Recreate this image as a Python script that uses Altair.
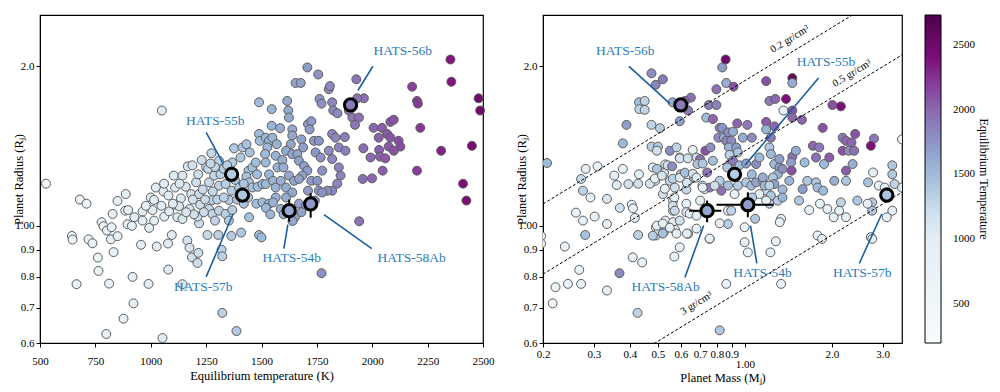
import altair as alt
import pandas as pd

FONT = "Liberation Serif"
ANN_TEXT = "#2b7bbd"
ANN_LINE = "#1b5e9f"
EDGE = "#5c5c5c"

# ---------------- left panel: equilibrium temperature vs radius ----------------
left_teq = [
    527, 680, 710, 644, 647, 719, 737, 778, 787, 802,
    823, 820, 850, 832, 761, 764, 665, 812, 799, 877,
    922, 918, 990, 1053, 850, 887, 828, 885, 898, 895,
    915, 926, 956, 963, 963, 993, 1000, 1008, 1023, 1015,
    1048, 1057, 1050, 1027, 1095, 1078, 1079, 1104, 1015, 978,
    1061, 1083, 1108, 1120, 1136, 1143, 1158, 1167, 1188, 1128,
    1143, 1165, 1175, 1186, 1143, 1215, 1211, 1175, 1183, 1205,
    1214, 1218, 1223, 1218, 1211, 1250, 1259, 1274, 1263, 1286,
    1308, 1308, 1278, 1263, 1278, 1290, 1256, 1305, 1320, 1323,
    1323, 1387, 1308, 1338, 1353, 1315, 1338, 1365, 1353, 1368,
    1364, 1408, 1376, 1368, 1405, 1414, 1432, 1447, 1441, 1432,
    1459, 1474, 1480, 1444, 1399, 1459, 1483, 1504, 1444, 1477,
    1504, 1534, 1489, 1500, 1489, 1489, 1492, 1519, 1534, 1526,
    1516, 1549, 1546, 1546, 1584, 1569, 1564, 1572, 1594, 1599,
    1519, 1534, 1519, 1552, 1564, 1587, 1564, 1552, 1587, 1616,
    1621, 1624, 1639, 1639, 1632, 1611, 1639, 1624, 1647, 1611,
    1639, 1611, 1651, 1654, 1677, 1707, 1756, 1680, 1688, 1710,
    1725, 1717, 1662, 1669, 1692, 1707, 1684, 1669, 1725, 1710,
    1669, 1737, 1744, 1759, 1767, 1774, 1752, 1759, 1741, 1762,
    1771, 1804, 1809, 1819, 1824, 1843, 1819, 1834, 1849, 1876,
    1879, 1804, 1819, 1849, 1857, 1842, 1819, 1797, 1774, 1894,
    1928, 1962, 1932, 1910, 1940, 1922, 2006, 2044, 2082, 2097,
    2067, 2029, 2082, 2119, 2127, 2074, 2097, 1960, 2031, 1992,
    2035, 2059, 2047, 1957, 1999, 1941, 2180, 2202, 2206, 2217,
    2311, 2202, 2353, 2357, 2450, 2480, 2487, 2410, 2425, 1771,
    1390, 1420, 1440, 1380, 1420, 1190, 1235, 1245, 1195, 1240,
    1280, 1300, 1330, 1330, 1345, 1290, 1520, 1540, 1600, 1700,
    1680, 1640, 1110, 1130, 1060, 1080, 1160, 1100, 1230, 1270,
]
left_radius = [
    1.20, 1.12, 1.10, 0.956, 0.941, 0.942, 0.926, 1.015, 0.997, 0.979,
    0.993, 0.942, 0.955, 0.891, 0.87, 0.821, 0.775, 0.777, 0.624, 0.667,
    0.713, 0.80, 0.776, 0.613, 1.113, 1.147, 1.052, 1.067, 1.07, 1.006,
    0.999, 1.037, 0.92, 1.063, 1.022, 0.99, 1.13, 1.07, 1.18, 1.118,
    1.09, 1.16, 1.65, 0.913, 0.96, 0.925, 0.826, 1.243, 1.022, 1.09,
    1.04, 1.064, 1.095, 1.037, 1.126, 1.243, 1.184, 1.294, 1.30, 1.088,
    1.029, 0.937, 0.908, 0.871, 0.775, 0.888, 0.85, 1.075, 1.147, 1.207,
    1.25, 1.147, 1.095, 1.01, 1.04, 1.288, 1.28, 1.37, 1.207, 1.243,
    1.19, 1.326, 1.118, 1.075, 1.052, 1.022, 0.96, 0.96, 0.90, 0.875,
    0.684, 0.632, 1.067, 1.052, 1.022, 1.25, 1.198, 1.164, 1.118, 1.07,
    0.956, 0.97, 1.40, 1.316, 1.345, 1.405, 1.425, 1.375, 1.27, 1.237,
    1.288, 1.316, 1.25, 1.207, 1.18, 1.18, 1.184, 1.198, 1.037, 1.10,
    1.106, 1.10, 0.96, 0.95, 1.71, 1.49, 1.446, 1.466, 1.446, 1.405,
    1.365, 1.466, 1.66, 1.544, 1.528, 1.425, 1.355, 1.288, 1.33, 1.288,
    1.316, 1.25, 1.198, 1.215, 1.18, 1.215, 1.13, 1.106, 1.075, 1.72,
    1.65, 1.60, 1.52, 1.48, 1.425, 1.385, 1.365, 1.243, 1.215, 1.18,
    1.155, 1.13, 1.037, 1.86, 1.86, 1.99, 1.93, 1.455, 1.405, 1.555,
    1.575, 1.52, 1.365, 1.326, 1.296, 1.27, 1.243, 1.225, 1.215, 1.164,
    1.10, 1.446, 1.375, 1.446, 1.345, 1.27, 1.215, 1.164, 1.115, 1.735,
    1.70, 1.81, 1.835, 1.71, 1.65, 1.63, 1.49, 1.466, 1.405, 1.47,
    1.385, 1.385, 1.336, 1.288, 1.243, 1.20, 1.164, 1.164, 1.155, 1.65,
    1.89, 1.74, 1.74, 1.60, 1.60, 1.55, 1.53, 1.53, 1.57, 1.585,
    1.49, 1.466, 1.466, 1.446, 1.41, 1.41, 1.385, 1.40, 1.39, 1.345,
    1.35, 1.34, 1.27, 1.225, 1.228, 1.019, 1.83, 1.72, 1.70, 1.53,
    1.385, 1.27, 2.06, 1.87, 1.415, 1.74, 1.65, 1.20, 1.115, 0.813,
    1.12, 1.10, 1.13, 1.22, 1.20, 1.12, 1.17, 1.12, 1.05, 1.06,
    1.16, 1.12, 1.13, 1.28, 1.30, 1.29, 1.08, 1.05, 1.05, 1.09,
    1.06, 1.02, 1.18, 1.20, 1.20, 1.14, 1.06, 1.10, 1.33, 1.31,
]

# ---------------- right panel: mass vs radius, coloured by Teq ----------------
right_mass = [
    0.197, 0.197, 0.2065, 0.216, 0.221, 0.238, 0.244, 0.26, 0.267, 0.271,
    0.271, 0.275, 0.275, 0.281, 0.28, 0.292, 0.302, 0.309, 0.333, 0.333,
    0.333, 0.353, 0.36, 0.369, 0.378, 0.378, 0.389, 0.395, 0.406, 0.41,
    0.416, 0.409, 0.441, 0.425, 0.368, 0.43, 0.45, 0.431, 0.45, 0.43,
    0.427, 0.475, 0.508, 0.475, 0.5, 0.476, 0.48, 0.49, 0.492, 0.492,
    0.503, 0.52, 0.525, 0.53, 0.524, 0.53, 0.55, 0.54, 0.55, 0.56,
    0.564, 0.564, 0.564, 0.573, 0.57, 0.595, 0.595, 0.58, 0.595, 0.6,
    0.57, 0.595, 0.636, 0.65, 0.475, 0.491, 0.52, 0.562, 0.62, 0.627,
    0.627, 0.627, 0.636, 0.66, 0.667, 0.68, 0.7, 0.685, 0.7, 0.713,
    0.726, 0.73, 0.74, 0.735, 0.75, 0.775, 0.797, 0.797, 0.835, 0.858,
    0.862, 0.914, 0.76, 0.775, 0.756, 0.818, 0.81, 0.835, 0.846, 0.874,
    0.862, 0.897, 0.91, 0.88, 0.941, 1.02, 0.984, 0.934, 1.057, 0.946,
    0.885, 0.885, 0.91, 0.958, 1.01, 1.057, 1.094, 1.123, 0.869, 0.818,
    0.829, 0.874, 0.921, 0.946, 1.01, 1.052, 1.094, 1.153, 1.185, 1.123,
    1.06, 0.874, 0.897, 0.874, 0.818, 0.998, 0.998, 1.024, 1.226, 1.28,
    1.335, 0.862, 0.755, 0.818, 1.085, 1.216, 1.3, 1.23, 1.335, 1.32,
    1.185, 1.185, 1.216, 1.275, 1.185, 1.185, 1.265, 1.23, 1.216, 1.23,
    1.265, 1.317, 1.3, 1.35, 1.35, 1.35, 1.317, 1.25, 1.265, 1.153,
    1.17, 1.216, 1.36, 1.388, 1.46, 1.46, 1.46, 1.46, 1.576, 1.46,
    1.445, 1.452, 1.502, 1.425, 1.54, 1.61, 1.585, 1.645, 1.67, 1.72,
    1.763, 1.763, 1.785, 1.81, 1.86, 1.88, 1.867, 1.96, 2.01, 2.15,
    2.04, 2.03, 1.785, 1.85, 1.82, 1.93, 2.15, 2.12, 2.24, 2.18,
    2.24, 2.34, 2.41, 2.18, 2.29, 2.24, 2.24, 2.36, 2.39, 2.45,
    2.67, 2.8, 2.73, 2.78, 2.91, 3.05, 3.1, 3.24, 3.24, 3.3,
    2.76, 2.76, 2.66, 3.24, 3.1, 2.73, 2.76, 3.5, 3.5, 0.427,
    0.469, 0.496, 0.488, 0.516, 0.528, 0.563, 0.572, 0.595, 0.62, 0.63,
    0.66, 0.68, 0.714, 0.563, 0.572, 0.644, 0.68, 0.496, 0.52, 0.55,
    0.48, 0.52, 0.58, 0.63, 0.68, 0.755, 0.496, 0.595, 0.634, 0.714,
    0.786,
]
right_radius = [
    0.955, 0.925, 1.313, 0.713, 0.765, 0.913, 0.776, 1.058, 0.825, 0.776,
    1.225, 1.164, 1.022, 1.28, 0.96, 1.13, 1.04, 1.294, 1.123, 1.007,
    0.754, 1.243, 1.193, 1.08, 1.43, 1.28, 1.55, 1.198, 1.095, 1.078,
    1.034, 0.871, 0.852, 0.684, 0.813, 1.71, 1.72, 1.66, 1.655, 1.25,
    0.96, 1.55, 1.528, 1.41, 1.41, 1.207, 1.288, 1.215, 0.992, 0.958,
    0.978, 1.147, 1.257, 1.305, 0.972, 1.022, 1.385, 1.30, 1.215, 1.294,
    1.115, 1.067, 1.015, 0.982, 0.874, 0.91, 1.022, 1.405, 1.345, 1.25,
    1.13, 1.575, 1.65, 1.745, 1.94, 1.845, 1.89, 1.71, 1.72, 1.17,
    1.10, 1.06, 0.965, 1.39, 1.233, 1.345, 1.335, 1.307, 1.115, 1.19,
    1.172, 1.385, 1.26, 1.60, 1.69, 1.59, 1.69, 1.81, 1.99, 2.06,
    1.86, 1.83, 1.405, 1.326, 1.18, 1.53, 1.466, 1.53, 1.466, 1.50,
    1.446, 1.446, 1.505, 1.405, 1.56, 1.55, 1.466, 1.405, 1.466, 1.375,
    1.36, 1.307, 1.326, 1.30, 1.31, 1.25, 1.307, 1.345, 1.288, 1.215,
    1.164, 1.19, 1.147, 1.19, 1.207, 1.19, 1.207, 1.215, 1.164, 1.147,
    1.13, 1.067, 1.067, 1.007, 1.01, 0.993, 0.93, 0.89, 0.89, 0.934,
    0.776, 0.776, 0.944, 0.634, 1.03, 1.10, 1.115, 1.14, 1.03, 1.015,
    1.115, 1.875, 1.72, 1.735, 1.57, 1.52, 1.54, 1.466, 1.405, 1.365,
    1.307, 1.288, 1.25, 1.28, 1.17, 1.13, 1.336, 1.233, 1.198, 1.233,
    1.19, 1.19, 1.65, 1.735, 1.90, 1.86, 1.65, 1.60, 1.585, 1.35,
    1.316, 1.27, 1.385, 1.215, 1.115, 1.316, 1.172, 1.215, 1.07, 1.415,
    1.345, 1.207, 1.18, 1.405, 1.53, 1.307, 1.164, 1.345, 1.69, 1.68,
    1.215, 1.037, 0.958, 0.944, 1.10, 1.075, 1.106, 1.067, 1.037, 1.466,
    1.446, 1.436, 1.49, 1.385, 1.385, 1.27, 1.215, 1.307, 1.385, 1.115,
    1.207, 1.46, 1.415, 1.26, 1.19, 1.18, 1.155, 1.30, 1.25, 1.198,
    1.106, 1.067, 1.10, 1.067, 1.037, 0.951, 0.944, 1.455, 1.18, 1.20,
    1.20, 1.28, 1.227, 1.243, 1.174, 1.226, 1.18, 1.232, 1.259, 1.205,
    1.253, 1.232, 1.18, 1.09, 1.067, 1.054, 1.044, 1.0, 1.009, 0.991,
    0.957, 0.966, 0.966, 0.966, 0.987, 0.945, 1.385, 1.34, 1.34, 1.31,
    1.19,
]
right_teq = [
    700, 650, 1500, 650, 700, 700, 650, 750, 700, 750,
    1250, 1300, 900, 900, 1450, 850, 800, 850, 1150, 850,
    800, 850, 1100, 1200, 1500, 850, 1700, 1200, 800, 800,
    800, 750, 800, 1300, 1800, 1450, 1300, 1300, 1300, 900,
    1300, 1300, 1350, 1350, 1400, 900, 1050, 1100, 800, 1300,
    1200, 1200, 1150, 800, 1250, 800, 1800, 1200, 1250, 1800,
    850, 1200, 850, 800, 850, 800, 1200, 1300, 1200, 1400,
    850, 1700, 1900, 1950, 1800, 1850, 1900, 1600, 2000, 1250,
    900, 1100, 800, 900, 1300, 1200, 1950, 1400, 850, 1150,
    850, 2100, 1900, 1500, 1900, 2000, 1850, 1950, 1700, 2500,
    1600, 2100, 1800, 1450, 1900, 1850, 1800, 1750, 1600, 1800,
    1850, 1800, 1600, 1550, 2000, 1900, 1600, 1700, 1800, 1400,
    1300, 1500, 1900, 1500, 1700, 1500, 1800, 1500, 1400, 1350,
    1950, 1450, 850, 1350, 1400, 1500, 1650, 1700, 1200, 850,
    1350, 850, 1300, 1350, 850, 800, 800, 800, 800, 800,
    750, 800, 800, 1400, 1400, 1300, 1350, 1400, 850, 800,
    850, 2100, 1900, 2000, 2050, 1550, 2000, 1900, 1400, 1500,
    1500, 1700, 1550, 1800, 1500, 1550, 1700, 1400, 1700, 1600,
    1500, 1300, 800, 2400, 2600, 1600, 2100, 2000, 2000, 1950,
    1700, 2100, 1600, 1550, 1400, 1500, 1700, 1400, 850, 2000,
    1950, 1400, 1500, 1900, 2100, 1500, 1500, 2050, 2100, 2400,
    1600, 900, 800, 800, 850, 850, 1300, 850, 850, 1900,
    2000, 2000, 2100, 2100, 1800, 2050, 1400, 1600, 1950, 1400,
    1450, 1900, 2400, 850, 850, 900, 1400, 1400, 1400, 1300,
    1400, 1400, 850, 850, 850, 800, 800, 800, 1100, 1200,
    1150, 1400, 850, 1150, 850, 1300, 1200, 1100, 1450, 1150,
    1200, 1100, 850, 1200, 1250, 850, 1100, 850, 850, 850,
    1350, 1450, 850, 850, 850, 850, 1200, 1150, 1200, 1400,
    1200,
]

# ---------------- highlighted HATS planets ----------------
hl_names = ["HATS-54b", "HATS-55b", "HATS-56b", "HATS-57b", "HATS-58Ab"]
hl_left_teq = [1625, 1365, 1902, 1414, 1722]
hl_left_radius = [1.067, 1.25, 1.69, 1.142, 1.099]
hl_left_r_lo = [1.017, 1.25, 1.69, 1.142, 1.035]
hl_left_r_hi = [1.12, 1.25, 1.69, 1.142, 1.152]

hl_right_mass = [1.024, 0.921, 0.60, 3.10, 0.74]
hl_right_radius = [1.095, 1.25, 1.69, 1.142, 1.067]
hl_right_teq = [1722, 1365, 1902, 1414, 1625]
hl_right_m_lo = [0.797, 0.921, 0.60, 3.10, 0.641]
hl_right_m_hi = [1.256, 0.921, 0.60, 3.10, 0.829]
hl_right_r_lo = [1.037, 1.25, 1.69, 1.142, 1.015]
hl_right_r_hi = [1.156, 1.25, 1.69, 1.142, 1.115]

# annotation label positions / pointer lines (data coordinates)
ann_left_tx = [1637, 1291, 2138, 1237, 2178]
ann_left_ty = [0.867, 1.578, 2.14, 0.767, 0.867]
ann_left_x1 = [1601, 1250, 2003, 1250, 1998]
ann_left_y1 = [0.905, 1.50, 2.00, 0.80, 0.905]
ann_left_x2 = [1619, 1327, 1935, 1372, 1782]
ann_left_y2 = [1.004, 1.31, 1.80, 1.053, 1.049]

ann_right_tx = [1.15, 1.91, 0.385, 2.55, 0.532]
ann_right_ty = [0.815, 2.04, 2.14, 0.815, 0.767]
ann_right_x1 = [1.10, 1.80, 0.397, 2.49, 0.62]
ann_right_y1 = [0.848, 1.90, 2.00, 0.848, 0.798]
ann_right_x2 = [1.046, 1.0, 0.55, 2.98, 0.72]
ann_right_y2 = [1.0, 1.30, 1.70, 1.053, 1.0]

# iso-density lines
densities = [0.2, 0.5, 3.0]
density_labels = ["0.2 gr/cm³", "0.5 gr/cm³", "3 gr/cm³"]
density_label_mass = [1.43, 2.35, 0.68]
density_label_radius = [2.25, 1.94, 0.713]
RHO_JUP = 1.326
MASS_RANGE = [0.2, 3.5]

# colour map (BuPu anchors, placed to match the reference colour bar)
bupu = ["#f7fcfd", "#e0ecf4", "#bfd3e6", "#9ebcda", "#8c96c6",
        "#8c6bb1", "#88419d", "#810f7c", "#4d004b"]
cdomain = [200, 1100, 1300, 1500, 1750, 1980, 2180, 2380, 2730]
color_scale = alt.Scale(domain=cdomain, range=bupu, interpolate="rgb")
legend = alt.Legend(
    title="Equilibrium Temperature", orient="right", direction="vertical",
    gradientLength=328, gradientThickness=16, values=[500, 1000, 1500, 2000, 2500],
    format="d",
    gradientStrokeColor="black", gradientStrokeWidth=1, labelOffset=12,
    titleOrient="right", titleAnchor="middle", titlePadding=2, offset=22,
    labelFontSize=11, titleFontSize=12, titleFontWeight="normal", labelFont=FONT, titleFont=FONT,
    labelColor="black", titleColor="black",
)

ylabel_expr = "datum.value == 1 ? '1.00\u00a0\u00a0\u00a0' : format(datum.value, '.1f')"
y_scale = alt.Scale(type="log", domain=[0.6, 2.5], nice=False)
y_axis = alt.Axis(values=[0.6, 0.7, 0.8, 0.9, 1.0, 2.0], labelExpr=ylabel_expr,
                  title="Planet Radius (Rⱼ)", grid=False, tickSize=4, labelPadding=2,
                  labelOverlap=False, titleX=-22, titleY=164, titleAngle=270,
                  titleAlign="center", titleBaseline="middle")

W_L, W_R, H = 443, 359, 328

# ---------------- left panel ----------------
df_left = pd.DataFrame({"teq": left_teq, "radius": left_radius})
x_left = alt.X("teq:Q", scale=alt.Scale(domain=[500, 2500], nice=False),
               axis=alt.Axis(values=list(range(500, 2501, 250)), title="Equilibrium temperature (K)",
                             grid=False, tickSize=4, labelPadding=8, labelFlush=False,
                             labelOverlap=False, format="d", titlePadding=3))
y_left = alt.Y("radius:Q", scale=y_scale, axis=y_axis)

pts_left = alt.Chart(df_left).mark_circle(size=80, stroke=EDGE, strokeWidth=1, opacity=1).encode(
    x=x_left, y=y_left, color=alt.Color("teq:Q", scale=color_scale, legend=legend))

df_hl_left = pd.DataFrame({"name": hl_names, "teq": hl_left_teq, "radius": hl_left_radius,
                           "rlo": hl_left_r_lo, "rhi": hl_left_r_hi})
err_left = alt.Chart(df_hl_left).mark_rule(color="black", strokeWidth=2).encode(
    x="teq:Q", y="rlo:Q", y2="rhi:Q")
hl_left = alt.Chart(df_hl_left).mark_circle(size=150, stroke="black", strokeWidth=3, opacity=1).encode(
    x="teq:Q", y="radius:Q", color=alt.Color("teq:Q", scale=color_scale, legend=legend))

df_ann_left = pd.DataFrame({"name": hl_names, "tx": ann_left_tx, "ty": ann_left_ty,
                            "x1": ann_left_x1, "y1": ann_left_y1, "x2": ann_left_x2, "y2": ann_left_y2})
ann_line_left = alt.Chart(df_ann_left).mark_rule(color=ANN_LINE, strokeWidth=1.6).encode(
    x="x1:Q", y="y1:Q", x2="x2:Q", y2="y2:Q")
ann_text_left = alt.Chart(df_ann_left).mark_text(color=ANN_TEXT, fontSize=13.5, font=FONT,
                                                 align="center", baseline="middle").encode(
    x="tx:Q", y="ty:Q", text="name:N")

left = alt.layer(pts_left, err_left, hl_left, ann_line_left, ann_text_left).properties(width=W_L, height=H)

# ---------------- right panel ----------------
df_right = pd.DataFrame({"mass": right_mass, "radius": right_radius, "teq": right_teq})
xr_scale = alt.Scale(type="log", domain=MASS_RANGE, nice=False)
xr_axis = alt.Axis(values=[0.2, 0.3, 0.4, 0.5, 0.6, 0.7, 0.8, 0.9, 1.0, 2.0, 3.0],
                   labelExpr="datum.value == 1 ? ['', '1.00'] : format(datum.value, '.1f')",
                   labelLineHeight=10, title="Planet Mass (Mⱼ)", grid=False, tickSize=4,
                   labelPadding=1, labelFlush=False, labelOverlap=False, titlePadding=2)
x_right = alt.X("mass:Q", scale=xr_scale, axis=xr_axis)
y_right = alt.Y("radius:Q", scale=y_scale, axis=y_axis)

rows = []
for rho, lab in zip(densities, density_labels):
    for m in MASS_RANGE:
        rows.append({"rho": lab, "mass": m, "radius": (m * RHO_JUP / rho) ** (1 / 3)})
df_dens = pd.DataFrame(rows)
dens_lines = alt.Chart(df_dens).mark_line(color="black", strokeWidth=1, strokeDash=[3, 2], clip=True).encode(
    x=alt.X("mass:Q", scale=xr_scale), y=alt.Y("radius:Q", scale=y_scale), detail="rho:N")
df_dens_lab = pd.DataFrame({"label": density_labels, "mass": density_label_mass,
                            "radius": density_label_radius})
dens_text = alt.Chart(df_dens_lab).mark_text(font=FONT, fontSize=10.5, angle=328.6, color="black",
                                             align="center", baseline="middle").encode(
    x="mass:Q", y="radius:Q", text="label:N")

pts_right = alt.Chart(df_right).mark_circle(size=80, stroke=EDGE, strokeWidth=1, opacity=1, clip=True).encode(
    x=x_right, y=y_right, color=alt.Color("teq:Q", scale=color_scale, legend=legend))

df_hl_right = pd.DataFrame({"name": hl_names, "mass": hl_right_mass, "radius": hl_right_radius,
                            "teq": hl_right_teq, "mlo": hl_right_m_lo, "mhi": hl_right_m_hi,
                            "rlo": hl_right_r_lo, "rhi": hl_right_r_hi})
errx_right = alt.Chart(df_hl_right).mark_rule(color="black", strokeWidth=2).encode(
    x="mlo:Q", x2="mhi:Q", y="radius:Q")
erry_right = alt.Chart(df_hl_right).mark_rule(color="black", strokeWidth=2).encode(
    x="mass:Q", y="rlo:Q", y2="rhi:Q")
hl_right = alt.Chart(df_hl_right).mark_circle(size=150, stroke="black", strokeWidth=3, opacity=1).encode(
    x="mass:Q", y="radius:Q", color=alt.Color("teq:Q", scale=color_scale, legend=legend))

df_ann_right = pd.DataFrame({"name": hl_names, "tx": ann_right_tx, "ty": ann_right_ty,
                             "x1": ann_right_x1, "y1": ann_right_y1, "x2": ann_right_x2, "y2": ann_right_y2})
ann_line_right = alt.Chart(df_ann_right).mark_rule(color=ANN_LINE, strokeWidth=1.6).encode(
    x="x1:Q", y="y1:Q", x2="x2:Q", y2="y2:Q")
ann_text_right = alt.Chart(df_ann_right).mark_text(color=ANN_TEXT, fontSize=13.5, font=FONT,
                                                  align="center", baseline="middle").encode(
    x="tx:Q", y="ty:Q", text="name:N")

right = alt.layer(pts_right, dens_lines, dens_text, errx_right, erry_right, hl_right,
                  ann_line_right, ann_text_right).properties(width=W_R, height=H)

chart = alt.hconcat(left, right, spacing=19).properties(
    padding={"left": 3, "top": 6, "right": 0, "bottom": 0}
).configure(font=FONT).configure_axis(
    labelFont=FONT, titleFont=FONT, labelFontSize=11, titleFontSize=12.5,
    titleFontWeight="normal", labelColor="black", titleColor="black",
    domainColor="black", tickColor="black", domainWidth=1,
).configure_view(stroke="black", strokeWidth=1.2)

chart.save("out.html", embed_options={"renderer": "svg", "actions": False})
